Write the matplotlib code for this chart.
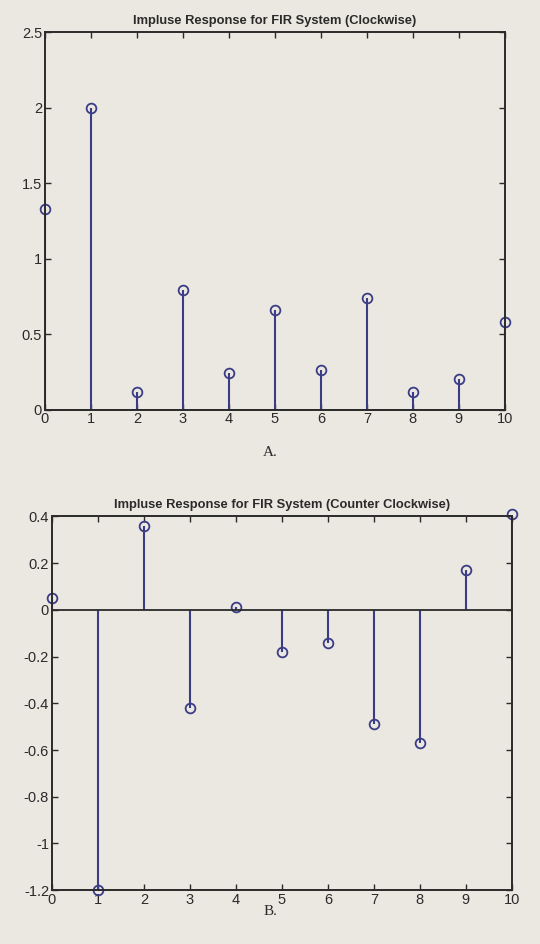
import matplotlib
matplotlib.use("Agg")
import matplotlib.pyplot as plt
import numpy as np

n = list(range(11))
h_cw = [1.33, 2.0, 0.12, 0.79, 0.24, 0.66, 0.26, 0.74, 0.12, 0.20, 0.58]
h_ccw = [0.05, -1.2, 0.36, -0.42, 0.01, -0.18, -0.14, -0.49, -0.57, 0.17, 0.41]

title_a = "Impluse Response for FIR System (Clockwise)"
title_b = "Impluse Response for FIR System (Counter Clockwise)"
yticks_a = [0, 0.5, 1, 1.5, 2, 2.5]
yticklabels_a = ["0", "0.5", "1", "1.5", "2", "2.5"]
yticks_b = [-1.2, -1, -0.8, -0.6, -0.4, -0.2, 0, 0.2, 0.4]
yticklabels_b = ["-1.2", "-1", "-0.8", "-0.6", "-0.4", "-0.2", "0", "0.2", "0.4"]
xticks = list(range(11))

paper = "#ebe8e1"
stem_col = "#3b3c86"
ink = "#2a2a2a"

fig = plt.figure(figsize=(5.4, 9.44), dpi=100)
fig.patch.set_facecolor(paper)

def make(ax, vals, ylim, yt, ytl, title):
    ax.set_facecolor(paper)
    ml, sl, bl = ax.stem(n, vals, linefmt="-", markerfmt="o", basefmt="-")
    plt.setp(sl, color=stem_col, linewidth=1.5)
    plt.setp(ml, color=stem_col, markerfacecolor="none", markersize=7, markeredgewidth=1.3, clip_on=False)
    plt.setp(bl, color=ink, linewidth=1.3)
    ax.set_xlim(0, 10)
    ax.set_ylim(*ylim)
    ax.set_xticks(xticks)
    ax.set_xticklabels([str(v) for v in xticks])
    ax.set_yticks(yt)
    ax.set_yticklabels(ytl)
    ax.tick_params(direction="in", top=True, right=True, length=4, width=1,
                   colors=ink, labelsize=10.5, pad=2)
    for s in ax.spines.values():
        s.set_color(ink)
        s.set_linewidth(1.4)
    ax.set_title(title, fontsize=9.3, fontweight="bold", color=ink, pad=6,
                 family="Liberation Sans")
    for lab in ax.get_xticklabels() + ax.get_yticklabels():
        lab.set_family("Liberation Sans")

ax1 = fig.add_axes([0.083, 0.566, 0.852, 0.400])
make(ax1, h_cw, (0, 2.5), yticks_a, yticklabels_a, title_a)

ax2 = fig.add_axes([0.096, 0.057, 0.852, 0.396])
make(ax2, h_ccw, (-1.2, 0.4), yticks_b, yticklabels_b, title_b)

fig.text(0.5, 0.521, "A.", ha="center", va="center", fontsize=11,
         family="Liberation Serif", color=ink)
fig.text(0.5, 0.034, "B.", ha="center", va="center", fontsize=11,
         family="Liberation Serif", color=ink)

fig.savefig("out.png", dpi=100, facecolor=paper)
